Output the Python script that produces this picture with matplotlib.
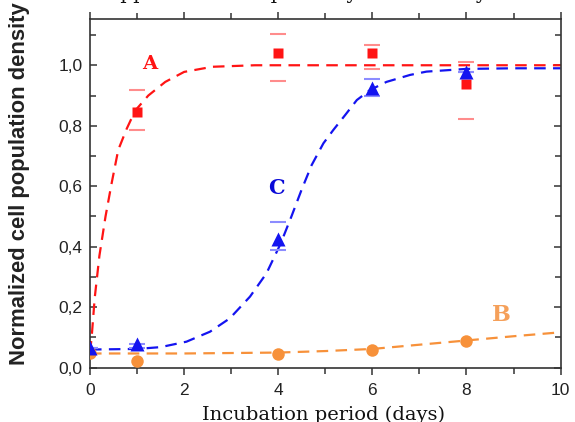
import matplotlib
matplotlib.use('Agg')
import matplotlib.pyplot as plt
from matplotlib.ticker import MultipleLocator, FuncFormatter

# fitted curves
curve_a_x = [0, 0.035, 0.1, 0.2, 0.33, 0.46, 0.6, 0.78, 0.96, 1.24, 1.6, 2.0, 2.6, 3.5, 5, 10]
curve_a_y = [0.05, 0.10, 0.23, 0.37, 0.50, 0.61, 0.72, 0.79, 0.85, 0.90, 0.945, 0.978, 0.995, 1.0, 1.0, 1.0]

curve_c_x = [0, 1, 1.5, 2.05, 2.55, 2.97, 3.4, 3.75, 4.05, 4.28, 4.5, 4.71, 4.96, 5.17, 5.42,
             5.67, 5.95, 6.3, 6.8, 7.15, 8, 9, 10]
curve_c_y = [0.06, 0.062, 0.068, 0.086, 0.119, 0.163, 0.235, 0.312, 0.41, 0.50, 0.59, 0.67, 0.742,
             0.786, 0.835, 0.885, 0.918, 0.945, 0.968, 0.979, 0.988, 0.99, 0.99]

curve_b_x = [0, 2, 4, 5, 6, 7, 8, 9, 10]
curve_b_y = [0.047, 0.047, 0.05, 0.055, 0.062, 0.076, 0.09, 0.104, 0.117]

# measured points
a_days = [1, 4, 6, 8]
a_vals = [0.846, 1.042, 1.039, 0.937]
a_err_lo = [0.06, 0.094, 0.052, 0.115]
a_err_hi = [0.071, 0.06, 0.028, 0.073]

c_days = [0, 1, 4, 6, 8]
c_vals = [0.065, 0.078, 0.424, 0.924, 0.978]
c_err_lo = [0, 0.012, 0.034, 0.025, 0]
c_err_hi = [0, 0, 0.057, 0.029, 0]

b_days = [0, 1, 4, 6, 8]
b_vals = [0.05, 0.023, 0.045, 0.058, 0.089]

red = '#ff1414'
blue = '#1414f0'
orange = '#f7913a'

fig = plt.figure(figsize=(5.75, 4.22), dpi=100)
ax = fig.add_axes([0.1565, 0.1287, 0.8185, 0.8263])

dash = (5.2, 3.3)
ax.plot(curve_b_x, curve_b_y, color=orange, lw=1.6, dashes=dash, zorder=2)
ax.plot(curve_a_x, curve_a_y, color=red, lw=1.6, dashes=dash, zorder=2)
ax.plot(curve_c_x, curve_c_y, color=blue, lw=1.6, dashes=dash, zorder=2)

# error caps only (light colours)
ax.errorbar(a_days, a_vals, yerr=[a_err_lo, a_err_hi], fmt='none', ecolor='#ff8c8c',
            elinewidth=0, capsize=6, capthick=1.5, zorder=3)
ax.errorbar(c_days, c_vals, yerr=[c_err_lo, c_err_hi], fmt='none', ecolor='#8c8cff',
            elinewidth=0, capsize=6, capthick=1.5, zorder=3)

ax.plot(a_days, a_vals, 's', color=red, ms=7.5, mec='none', zorder=4)
ax.plot(b_days, b_vals, 'o', color=orange, ms=9, mec='none', zorder=4)
ax.plot(c_days, c_vals, '^', color=blue, ms=9.5, mec='none', zorder=5)

ax.text(1.27, 1.005, 'A', color=red, fontsize=14, fontweight='bold', family='DejaVu Serif',
        ha='center', va='center')
ax.text(3.97, 0.593, 'C', color='#0a0ad8', fontsize=15, fontweight='bold', family='DejaVu Serif',
        ha='center', va='center')
ax.text(8.75, 0.174, 'B', color='#f5a05a', fontsize=16, fontweight='bold', family='DejaVu Serif',
        ha='center', va='center')

ax.set_xlim(0, 10)
ax.set_ylim(0, 1.153)
ax.xaxis.set_major_locator(MultipleLocator(2))
ax.xaxis.set_minor_locator(MultipleLocator(1))
ax.yaxis.set_major_locator(MultipleLocator(0.2))
ax.yaxis.set_minor_locator(MultipleLocator(0.1))
ax.yaxis.set_major_formatter(FuncFormatter(lambda v, p: '{:.1f}'.format(v).replace('.', ',')))

ax.tick_params(axis='both', which='both', top=True, right=True, color='#333333',
               labelsize=12.5, labelcolor='#222222')
ax.tick_params(axis='x', which='both', direction='out', pad=6)
ax.tick_params(axis='y', which='both', direction='in', pad=5.5)
ax.tick_params(which='major', length=5, width=1.1)
ax.tick_params(which='minor', length=4, width=1.1)
for t in ax.get_xticklabels() + ax.get_yticklabels():
    t.set_family('Liberation Sans')
for s in ax.spines.values():
    s.set_color('#333333')
    s.set_linewidth(1.2)

fig.text(20 / 575, 0.565, 'Normalized cell population density', rotation=90, ha='center',
         va='center', fontsize=15.8, fontweight='bold', family='Liberation Sans', color='#222222')
fig.text(323 / 575, 1.5 / 422, 'Incubation period (days)', ha='center', va='baseline',
         fontsize=14, family='DejaVu Serif', color='#111111')
# caption line from the page above, mostly cut off
fig.text(90 / 575, 1 + 1 / 422, 'e applications of quasi-crystalline alloys.', ha='left',
         va='baseline', fontsize=14.4, family='DejaVu Serif', color='#111111')

fig.savefig('out.png', dpi=100)
